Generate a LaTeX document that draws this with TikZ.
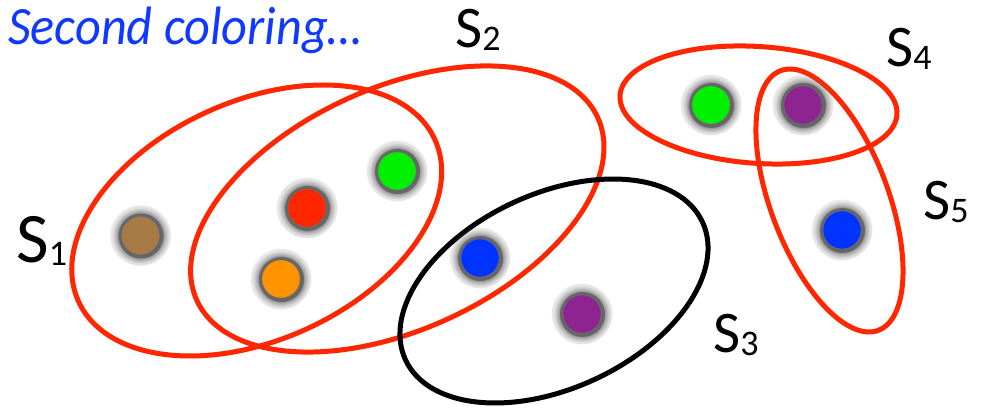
\documentclass[tikz,border=0pt]{standalone}
\usepackage{fontspec}
\setmainfont{Carlito}
\usetikzlibrary{shadows,fadings}
\definecolor{setred}{RGB}{255,38,0}
\definecolor{txtblue}{RGB}{16,56,255}
\definecolor{dbrown}{RGB}{168,122,70}
\definecolor{dred}{RGB}{255,38,0}
\definecolor{dgreen}{RGB}{0,240,0}
\definecolor{dorange}{RGB}{255,148,0}
\definecolor{dblue}{RGB}{0,51,255}
\definecolor{dpurple}{RGB}{142,36,144}
\pgfdeclareradialshading{softglowshade}{\pgfpointorigin}{color(0bp)=(white); color(18bp)=(white); color(19bp)=(white!60!black); color(23bp)=(white!20!black); color(28bp)=(black); color(50bp)=(black)}
\pgfdeclarefading{softglow}{\pgfuseshading{softglowshade}}
\newcommand{\setlab}[2][59]{\fontsize{#1}{#1}\selectfont S\raisebox{-3pt}{\fontsize{36}{36}\selectfont #2}}
\begin{document}
\begin{tikzpicture}[x=1pt,y=1pt,
  setline/.style={draw=setred,line width=5pt},
  blackset/.style={draw=black,line width=5pt},
  dot/.style={circle,draw=black!55,line width=0.3pt,minimum size=38pt,inner sep=0pt,
    general shadow={fill=black!60,path fading=softglow,shadow scale=1.6}},
  lab/.style={anchor=base west,inner sep=0pt}]
\useasboundingbox[fill=white] (0,0) rectangle (986,409);
% sets
\draw[setline,rotate around={24.4:(256.7,188.5)}] (256.7,188.5) ellipse [x radius=195.7pt,y radius=119.4pt];
\draw[setline,rotate around={24.5:(397.3,200)}] (397.3,200) ellipse [x radius=220.3pt,y radius=121pt];
\draw[blackset,rotate around={24.9:(554,118)}] (554,118) ellipse [x radius=163.7pt,y radius=97.3pt];
\draw[setline,rotate around={-3.96:(758.5,304)}] (758.5,304) ellipse [x radius=138.8pt,y radius=58.4pt];
\draw[setline,rotate around={-69.4:(829.5,208.5)}] (829.5,208.5) ellipse [x radius=138.7pt,y radius=58.8pt];
% elements
\node[dot,fill=dbrown]  (brown)   at (140.5,173.5) {};
\node[dot,fill=dred]    (red)     at (307,201) {};
\node[dot,fill=dgreen]  (green)   at (397,238) {};
\node[dot,fill=dorange] (orange)  at (281,130) {};
\node[dot,fill=dblue]   (blue)    at (480,151) {};
\node[dot,fill=dpurple] (purple)  at (582,95) {};
\node[dot,fill=dgreen]  (greenb)  at (711,304) {};
\node[dot,fill=dpurple] (purpleb) at (803,304) {};
\node[dot,fill=dblue]   (blueb)   at (842,179) {};
% labels
\node[lab,text=txtblue] (title) at (8,364) {\fontsize{54}{54}\selectfont\itshape\scalebox{0.93}[1]{Second coloring…}};
\node[lab] (s1) at (16,146) {\setlab[71]{1}};
\node[lab] (s2) at (455,361) {\setlab{2}};
\node[lab] (s3) at (713,56) {\setlab{3}};
\node[lab] (s4) at (886,342) {\setlab{4}};
\node[lab] (s5) at (923,189) {\setlab{5}};
\end{tikzpicture}
\end{document}
